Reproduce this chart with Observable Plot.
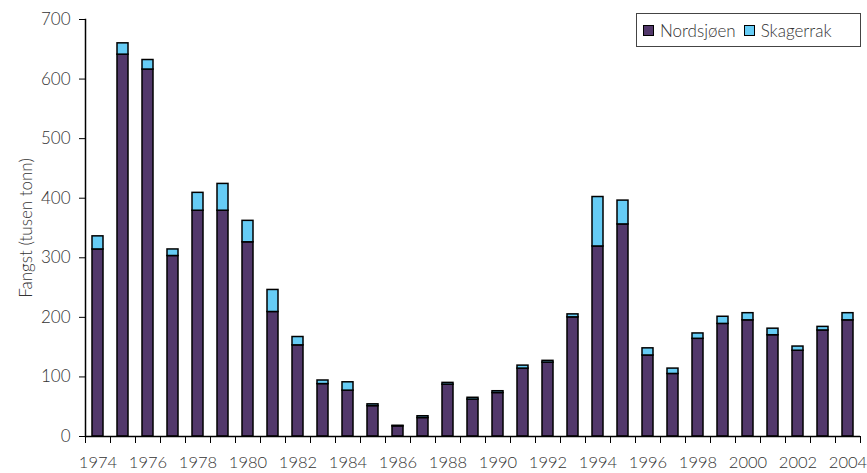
<!DOCTYPE html>
<html>
<head>
<meta charset="utf-8">
<script src="https://cdn.jsdelivr.net/npm/d3@7"></script>
<script src="https://cdn.jsdelivr.net/npm/@observablehq/plot@0.6"></script>
<style>
  html, body { margin: 0; padding: 0; background: #fff; }
  #wrap { position: relative; width: 867px; height: 473px; font-family: Lato, "Open Sans", sans-serif; }
  #legend { position: absolute; left: 636px; top: 13px; width: 225px; height: 34px; border: 1px solid #444;
    box-sizing: border-box; display: flex; align-items: center; font-size: 17px; font-weight: 300; color: #333; background: #fff; }
  #legend .item { display: flex; align-items: center; margin-left: 6px; margin-right: 2px; }
  #legend .sw { width: 9px; height: 9px; border: 1.5px solid #000; margin-right: 6px; }
</style>
</head>
<body>
<div id="wrap">
  <div id="chart"></div>
  <div id="legend"></div>
</div>
<script>
const years = [1974,1975,1976,1977,1978,1979,1980,1981,1982,1983,1984,1985,1986,1987,1988,1989,1990,1991,1992,1993,1994,1995,1996,1997,1998,1999,2000,2001,2002,2003,2004];
const nordsjoen = [314,641,616,303,379,379,326,209,153,88,77,51,17,31,87,62,73,114,124,200,319,356,136,105,164,189,195,170,144,178,195];
const skagerrak = [22,19,16,11,30,45,36,37,14,6,14,3,1,3,3,3,3,5,3,5,83,40,12,9,9,12,12,11,7,6,12];
const seriesNames = ["Nordsjøen", "Skagerrak"];
const seriesColors = ["#52386b", "#66ccf5"];
const yTicks = [0,100,200,300,400,500,600,700];
const xLabelYears = years.filter(y => y % 2 === 0);

const data = years.flatMap((y, i) => [
  {year: y, series: seriesNames[0], value: nordsjoen[i]},
  {year: y, series: seriesNames[1], value: skagerrak[i]}
]);

const width = 867, height = 473, mL = 85, mR = 7;
const step = (width - mL - mR) / years.length;

const chart = Plot.plot({
  width, height,
  marginLeft: mL, marginRight: mR, marginTop: 19, marginBottom: 37,
  style: {fontFamily: "Lato, 'Open Sans', sans-serif", fontSize: "16px", fontWeight: 300, color: "#333", background: "#fff", overflow: "visible"},
  x: {type: "band", domain: years, paddingInner: 0.56, paddingOuter: 0.28},
  y: {domain: [0, 700]},
  color: {domain: seriesNames, range: seriesColors},
  marks: [
    Plot.barY(data, {x: "year", y: "value", fill: "series", stroke: "#000", strokeWidth: 1.5}),
    Plot.axisY({ticks: yTicks, tickSize: 6, tickPadding: 9, fontSize: 17, stroke: "#000",
      label: "Fangst (tusen tonn)", labelAnchor: "center", labelArrow: "none", labelOffset: 66}),
    Plot.axisX({ticks: years, tickFormat: () => "", tickSize: 7, dx: step / 2, stroke: "#000", label: null}),
    Plot.axisX({ticks: [years[0]], tickFormat: () => "", tickSize: 7, dx: -step / 2, stroke: "#000", label: null}),
    Plot.axisX({ticks: xLabelYears, tickFormat: d => String(d), tickSize: 0, tickPadding: 20, fontSize: 16.5, label: null}),
    Plot.frame({anchor: "left", stroke: "#000", strokeWidth: 1.5}),
    Plot.ruleY([0], {stroke: "#000", strokeWidth: 1.5})
  ]
});
document.getElementById("chart").appendChild(chart);

const legend = document.getElementById("legend");
seriesNames.forEach((name, i) => {
  const item = document.createElement("div");
  item.className = "item";
  const sw = document.createElement("div");
  sw.className = "sw";
  sw.style.background = seriesColors[i];
  item.appendChild(sw);
  item.appendChild(document.createTextNode(name));
  legend.appendChild(item);
});
</script>
</body>
</html>
